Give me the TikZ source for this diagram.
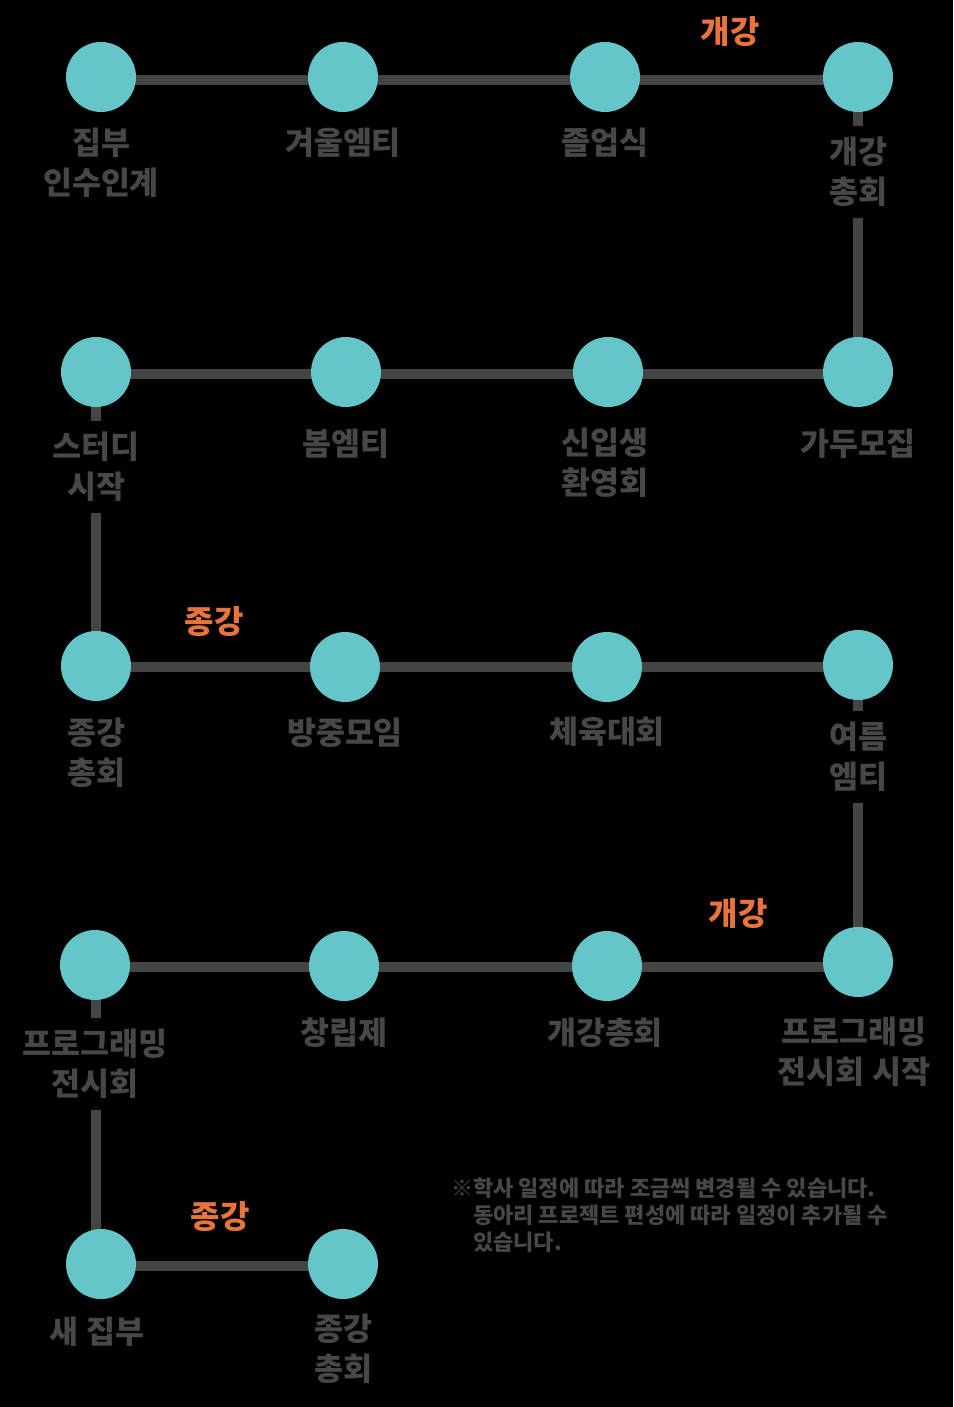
\documentclass[tikz,border=0pt]{standalone}
\usepackage{fontspec}
\setmainfont{Noto Sans CJK KR}
\definecolor{teal}{HTML}{64C6C8}
\definecolor{linegray}{HTML}{444444}
\definecolor{txtgray}{HTML}{474747}
\definecolor{orng}{HTML}{E8743C}
\pgfdeclarelayer{back}
\pgfdeclarelayer{bg}
\pgfsetlayers{back,bg,main}
\tikzset{
  dot/.style={circle, fill=teal, minimum size=70pt, inner sep=0pt},
  conn/.style={draw=linegray, line width=10pt},
  lab/.style={text=txtgray, font=\bfseries\fontsize{31.5}{40}\selectfont, align=center, fill=black, inner xsep=2pt, inner ysep=11pt},
  sem/.style={text=orng, font=\bfseries\fontsize{32}{40}\selectfont, inner sep=0pt},
  note/.style={text=txtgray, font=\bfseries\fontsize{22}{27}\selectfont, align=left, anchor=west, inner sep=0pt}
}
\begin{document}
\begin{tikzpicture}[x=1pt,y=-1pt]
\begin{pgfonlayer}{back}
\fill[black] (0,0) rectangle (953,1407);
\end{pgfonlayer}
\useasboundingbox (0,0) rectangle (953,1407);
% row 1
\node[dot] (r1a) at (101,77) {};
\node[dot] (r1b) at (343,77) {};
\node[dot] (r1c) at (605,77) {};
\node[dot] (r1d) at (858,77) {};
% row 2
\node[dot] (r2a) at (96,372) {};
\node[dot] (r2b) at (346,372) {};
\node[dot] (r2c) at (608,372) {};
\node[dot] (r2d) at (858,372) {};
% row 3
\node[dot] (r3a) at (96,666) {};
\node[dot] (r3b) at (345,667) {};
\node[dot] (r3c) at (607,667) {};
\node[dot] (r3d) at (858,665) {};
% row 4
\node[dot] (r4a) at (95,965) {};
\node[dot] (r4b) at (344,966) {};
\node[dot] (r4c) at (607,966) {};
\node[dot] (r4d) at (858,962) {};
% row 5
\node[dot] (r5a) at (101,1264) {};
\node[dot] (r5b) at (343,1264) {};

\begin{pgfonlayer}{bg}
\draw[conn] ([yshift=-3pt]r1a.center) -- ([yshift=-3pt]r1a.center -| r1d.center);
\draw[conn] (r1d.center) -- (r2d.center);
\draw[conn] ([yshift=-2pt]r2a.center) -- ([yshift=-2pt]r2a.center -| r2d.center);
\draw[conn] (r2a.center) -- (r3a.center);
\draw[conn] ([yshift=-1pt]r3a.center) -- ([yshift=-1pt]r3a.center -| r3d.center);
\draw[conn] (r3d.center) -- (r4d.center);
\draw[conn] ([yshift=-2pt]r4a.center) -- ([yshift=-2pt]r4a.center -| r4d.center);
\draw[conn] ([xshift=1pt]r4a.center) -- ([xshift=1pt]r4a.center |- r5a.center);
\draw[conn] ([yshift=-2pt]r5a.center) -- ([yshift=-2pt]r5a.center -| r5b.center);
\end{pgfonlayer}

% labels
\node[lab] (l1a) at (101,163) {집부\\인수인계};
\node[lab] (l1b) at (343,143) {겨울엠티};
\node[lab] (l1c) at (605,143) {졸업식};
\node[lab] (l1d) at (858,172) {개강\\총회};
\node[lab] (l2a) at (96,467) {스터디\\시작};
\node[lab] (l2b) at (346,444) {봄엠티};
\node[lab] (l2c) at (605,463) {신입생\\환영회};
\node[lab] (l2d) at (858,444) {가두모집};
\node[lab] (l3a) at (96,753) {종강\\총회};
\node[lab] (l3b) at (345,733) {방중모임};
\node[lab] (l3c) at (607,732) {체육대회};
\node[lab] (l3d) at (858,757) {여름\\엠티};
\node[lab] (l4a) at (95,1064) {프로그래밍\\전시회};
\node[lab] (l4b) at (344,1033) {창립제};
\node[lab] (l4c) at (605,1033) {개강총회};
\node[lab] (l4d) at (854,1052) {프로그래밍\\전시회 시작};
\node[lab] (l5a) at (97,1332) {새 집부};
\node[lab] (l5b) at (343,1349) {종강\\총회};
% semester marks
\node[sem] (s1) at (730,32) {개강};
\node[sem] (s2) at (214,622) {종강};
\node[sem] (s3) at (738,914) {개강};
\node[sem] (s4) at (220,1217) {종강};
% note
\node[note] (nt) at (451,1215) {※학사 일정에 따라 조금씩 변경될 수 있습니다.\\\phantom{※}동아리 프로젝트 편성에 따라 일정이 추가될 수\\\phantom{※}있습니다.};
\end{tikzpicture}
\end{document}
